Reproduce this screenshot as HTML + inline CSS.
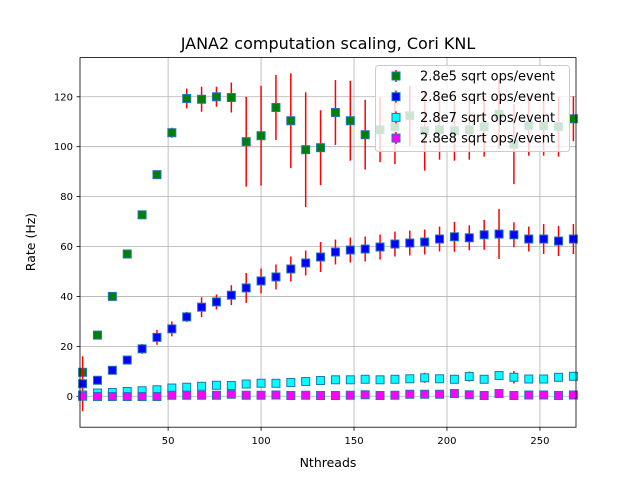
<!DOCTYPE html>
<html><head><meta charset="utf-8"><style>
body{margin:0;background:#fff;}
svg text{font-family:"DejaVu Sans","Liberation Sans",sans-serif;fill:#000;}
</style></head><body>
<svg id="chart" width="640" height="480" xmlns="http://www.w3.org/2000/svg"></svg>
<script>
const threads=[4,12,20,28,36,44,52,60,68,76,84,92,100,108,116,124,132,140,148,156,164,172,180,188,196,204,212,220,228,236,244,252,260,268];
const rate5=[9.6,24.5,40,57,72.7,88.8,105.6,119.3,119,120,119.7,102,104.4,115.7,110.4,98.8,99.6,113.7,110.4,104.8,106.8,108,112.4,106.4,106.8,106.4,106.8,108,113,101,108.4,108.4,108,111.2];
const err5=[1,1,1,1,1.5,1.5,2,4,5,4,6,18,20,13,19,23,15,13,16,14,13,15,12,16,12,12,12,12,14,16,12,12,12,9];
const rate6=[5,6.4,10.4,14.5,19,23.6,27,31.8,35.7,37.8,40.5,43.4,46.2,47.8,51,53.4,55.8,57.8,58.6,59,59.8,61,61.4,61.8,63,63.9,63.5,64.7,65,64.7,63,63,62.2,63];
const err6=[11,1,1,1.5,2,3,3,2,4,3,4,6,5,5,5,5,6,5,5,5,5,5,5,5,5,6,5,6,10,5,5,6,6,6];
const rate7=[0.5,1.3,1.5,1.9,2.2,2.6,3.3,3.6,4,4.4,4.3,4.9,5.2,5.2,5.5,5.9,6.3,6.6,6.6,6.8,6.6,6.8,7,7.4,7,6.8,7.9,6.8,8.3,7.6,6.9,6.9,7.6,8];
const err7=[0.5,0.5,0.5,0.5,0.5,0.5,0.5,0.5,1,1,1,1,1,1,1,1,1.5,1.5,1.5,1.5,1.5,1.5,1.5,2,1.5,1.5,2,1.5,1.5,2.5,1.5,1.5,1.5,1.5];
const rate8=[0,-0.1,-0.1,-0.1,-0.1,-0.1,0.4,0.4,0.4,0.4,0.8,0.4,0.4,0.5,0.3,0.4,0.3,0.3,0.4,0.6,0.3,0.4,0.8,0.8,0.8,1.1,0.6,0.3,1.1,0.3,0.5,0.5,0.3,0.5];
const err8=[0.4,0.4,0.4,0.4,0.4,0.4,0.4,0.4,0.4,0.4,0.4,0.4,0.4,0.4,0.4,0.4,0.4,0.4,0.4,0.4,0.4,0.4,0.4,0.4,0.4,0.4,0.4,0.4,0.4,0.4,0.4,0.4,0.4,0.4];
const xTicks=[50,100,150,200,250];
const yTicks=[0,20,40,60,80,100,120];
const X0=80,X1=576,Y0=57.6,Y1=427.2,xmin=2.6,xmax=269.4,ymin=-12.4,ymax=135.7;
const sx=v=>X0+(v-xmin)/(xmax-xmin)*(X1-X0);
const sy=v=>Y1-(v-ymin)/(ymax-ymin)*(Y1-Y0);
const svg=document.getElementById('chart');
const NS='http://www.w3.org/2000/svg';
function mk(tag,attrs,parent){const e=document.createElementNS(NS,tag);for(const k in attrs)e.setAttribute(k,attrs[k]);(parent||svg).appendChild(e);return e;}
mk('rect',{x:0,y:0,width:640,height:480,fill:'#fff'});
const grid=mk('g',{});


xTicks.forEach(t=>{
  mk('line',{x1:sx(t),x2:sx(t),y1:Y0,y2:Y1,stroke:'#b0b0b0','stroke-width':0.8},grid);
  mk('line',{x1:sx(t),x2:sx(t),y1:Y1,y2:Y1+3.5,stroke:'#000','stroke-width':0.8});
  const tx=mk('text',{x:sx(t),y:Y1+17,'text-anchor':'middle','font-size':10});
  tx.textContent=t;
  
  
});
yTicks.forEach(t=>{
  mk('line',{x1:X0,x2:X1,y1:sy(t),y2:sy(t),stroke:'#b0b0b0','stroke-width':0.8},grid);
  mk('line',{x1:X0-3.5,x2:X0,y1:sy(t),y2:sy(t),stroke:'#000','stroke-width':0.8});
  const tx=mk('text',{x:X0-7,y:sy(t)+3.5,'text-anchor':'end','font-size':10});
  tx.textContent=t;
  
  
});
const series=[
  {name:'series-2-8e5',vals:rate5,errs:err5,fill:'#008000'},
  {name:'series-2-8e6',vals:rate6,errs:err6,fill:'#0000ff'},
  {name:'series-2-8e7',vals:rate7,errs:err7,fill:'#00ffff'},
  {name:'series-2-8e8',vals:rate8,errs:err8,fill:'#ff00ff'}];
const H=4;
series.forEach(s=>{
  const g=mk('g',{});
  
  
  s.vals.forEach((v,i)=>{
    const x=sx(threads[i]);
    mk('line',{x1:x,x2:x,y1:sy(v-s.errs[i]),y2:sy(v+s.errs[i]),stroke:'#ff0000','stroke-width':1.5},g);
  });
  s.vals.forEach((v,i)=>{
    const x=sx(threads[i]);
    const r=mk('rect',{x:x-H,y:sy(v)-H,width:2*H,height:2*H,fill:s.fill,stroke:'#1f77b4','stroke-width':1},g);
    
    
  });
});
mk('rect',{x:X0,y:Y0,width:X1-X0,height:Y1-Y0,fill:'none',stroke:'#000','stroke-width':0.8});
const lg=mk('g',{});


mk('rect',{x:375.5,y:65.5,width:194,height:86,rx:3,fill:'rgba(255,255,255,0.8)',stroke:'#cccccc','stroke-width':1},lg);
const labels=['2.8e5 sqrt ops/event','2.8e6 sqrt ops/event','2.8e7 sqrt ops/event','2.8e8 sqrt ops/event'];
labels.forEach((l,i)=>{
  const y=76+i*20.7;
  mk('line',{x1:396,x2:396,y1:y-6,y2:y+6,stroke:'#ff0000','stroke-width':1.5},lg);
  mk('rect',{x:396-H,y:y-H,width:2*H,height:2*H,fill:series[i].fill,stroke:'#1f77b4','stroke-width':1},lg);
  const t=mk('text',{x:420,y:y+4.5,'font-size':13},lg);
  t.textContent=l;
  
  
});
const title=mk('text',{x:328,y:49,'text-anchor':'middle','font-size':16});
title.textContent='JANA2 computation scaling, Cori KNL';


const xl=mk('text',{x:328,y:467,'text-anchor':'middle','font-size':12.5});
xl.textContent='Nthreads';


const yl=mk('text',{x:35,y:242,'text-anchor':'middle','font-size':12.5,transform:'rotate(-90 35 242)'});
yl.textContent='Rate (Hz)';


</script>
</body></html>
